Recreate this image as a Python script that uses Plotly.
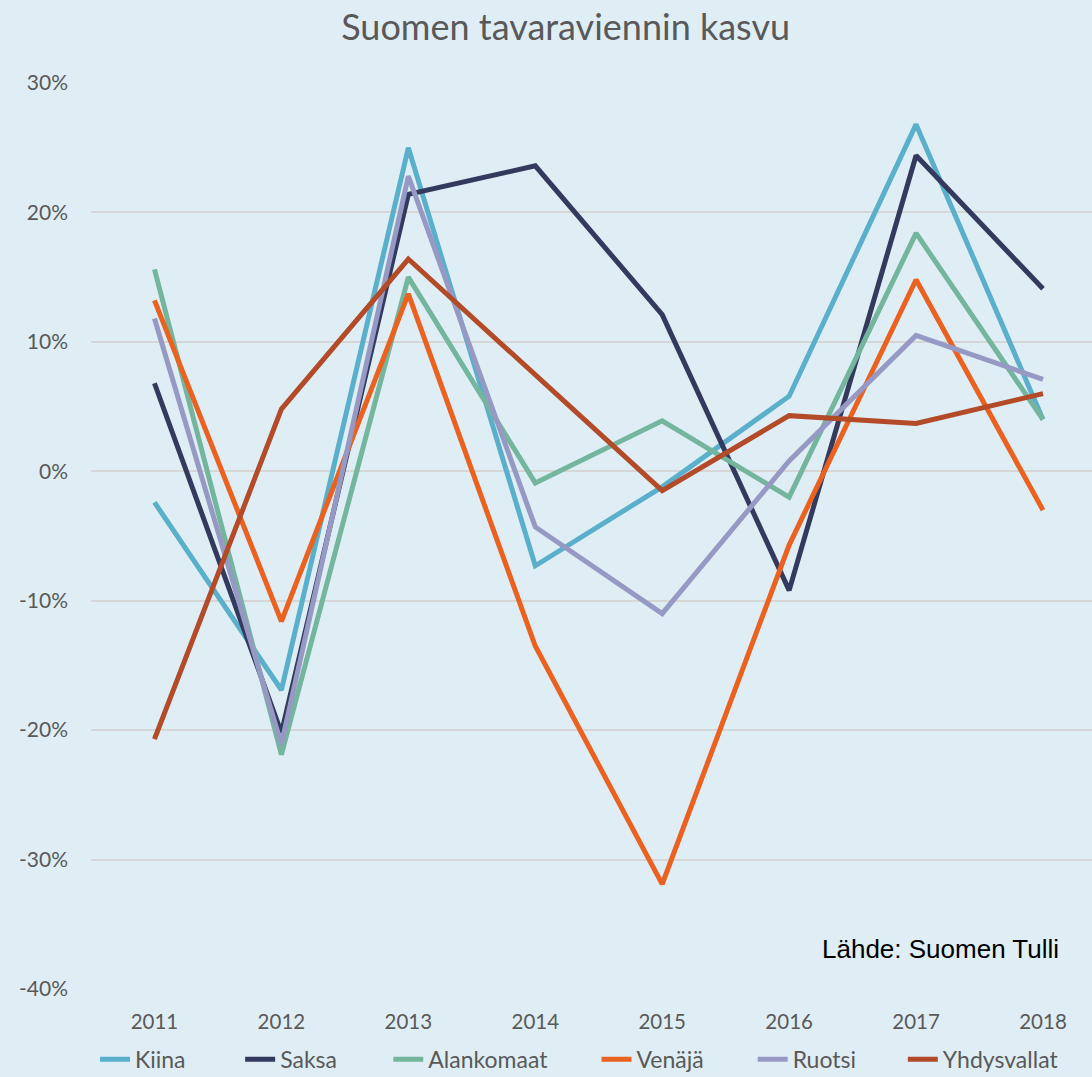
import plotly.graph_objects as go

years = [2011, 2012, 2013, 2014, 2015, 2016, 2017, 2018]
kiina = [-2.4, -16.9, 25.0, -7.3, -1.2, 5.8, 26.8, 4.0]
saksa = [6.8, -20.2, 21.4, 23.6, 12.1, -9.2, 24.4, 14.1]
alankomaat = [15.6, -21.9, 15.0, -0.9, 3.9, -2.0, 18.4, 4.0]
venaja = [13.2, -11.6, 13.7, -13.5, -31.9, -5.7, 14.8, -3.0]
ruotsi = [11.8, -21.1, 22.8, -4.3, -11.0, 0.8, 10.5, 7.1]
yhdysvallat = [-20.7, 4.8, 16.4, 7.4, -1.5, 4.3, 3.7, 6.0]

series = [
    ("Kiina", kiina, "#5AAFCB"),
    ("Saksa", saksa, "#343A5E"),
    ("Alankomaat", alankomaat, "#74B59D"),
    ("Venäjä", venaja, "#EA6120"),
    ("Ruotsi", ruotsi, "#9699C3"),
    ("Yhdysvallat", yhdysvallat, "#B34A28"),
]

y_ticks = [30, 20, 10, 0, -10, -20, -30, -40]
y_labels = ["30%", "20%", "10%", "0%", "-10%", "-20%", "-30%", "-40%"]

legend_x = [0.004, 0.149, 0.297, 0.505, 0.661, 0.811]

bg = "#DFEEF5"
fig = go.Figure()
legend_layout = {}
for i, (name, vals, col) in enumerate(series):
    lg = "legend" if i == 0 else f"legend{i+1}"
    fig.add_trace(go.Scatter(x=years, y=vals, mode="lines", name=name,
                             line=dict(color=col, width=5), legend=lg))
    legend_layout[lg] = dict(orientation="h", x=legend_x[i], xanchor="left",
                             xref="paper", yref="container",
                             y=0.0165, yanchor="middle",
                             font=dict(family="Lato", size=23, color="#595959"),
                             bgcolor="rgba(0,0,0,0)")

fig.update_layout(
    width=1092, height=1077,
    paper_bgcolor=bg, plot_bgcolor=bg,
    margin=dict(l=91, r=0, t=83, b=88),
    title=dict(text="Suomen tavaraviennin kasvu", x=0.518, xanchor="center",
               y=0.975, yanchor="middle",
               font=dict(family="Lato", size=36, color="#595959")),
    font=dict(family="Lato", color="#595959"),
    showlegend=True,
    annotations=[dict(text="Lähde: Suomen Tulli", xref="paper", yref="paper",
                      x=0.969, y=0.044, xanchor="right", yanchor="middle",
                      showarrow=False,
                      font=dict(family="Liberation Sans", size=26, color="#000000"))],
    **legend_layout,
)
fig.update_xaxes(range=[2010.5, 2018.386], tickvals=years, ticktext=[str(y) for y in years],
                 showgrid=False, zeroline=False, showline=False,
                 tickfont=dict(size=20.5, color="#595959"), ticklabelstandoff=18)
fig.update_yaxes(range=[-40, 30], tickvals=y_ticks, ticktext=y_labels,
                 showgrid=True, gridcolor="#D6D6D6", gridwidth=2, zeroline=False,
                 tickfont=dict(size=21, color="#595959"), ticklabelstandoff=22)

fig.write_html("out.html", config={"displayModeBar": False},
               post_script="document.body.style.margin='0';")
